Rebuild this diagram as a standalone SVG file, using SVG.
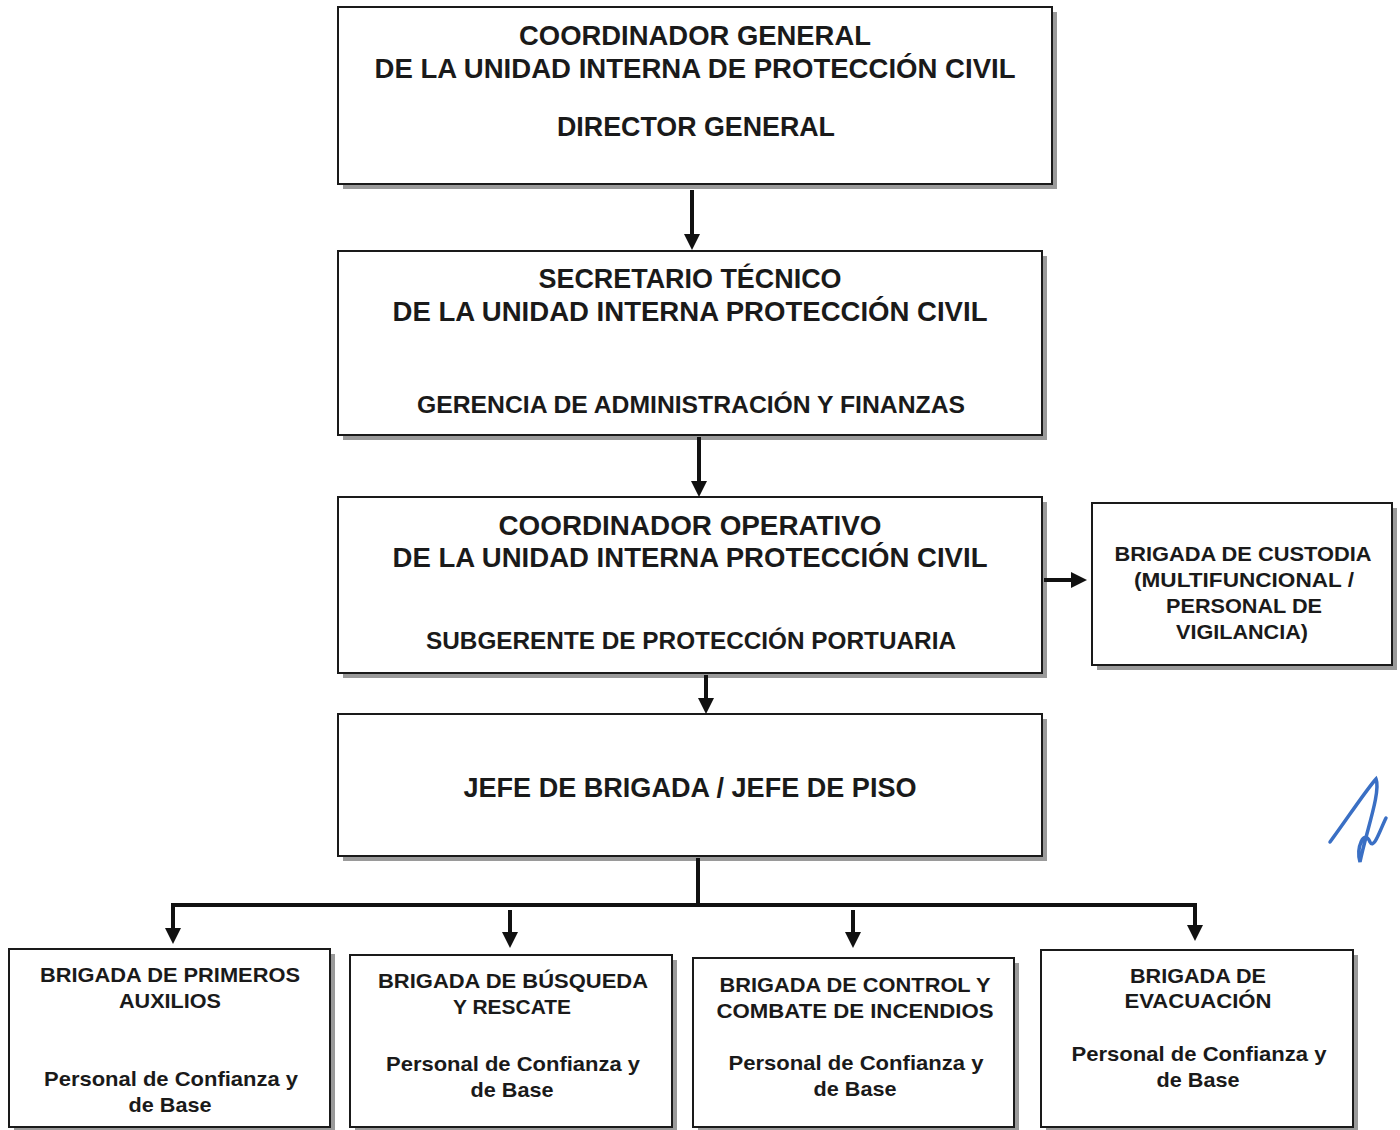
<svg xmlns="http://www.w3.org/2000/svg" width="1400" height="1130" viewBox="0 0 1400 1130">
<style>
.box{fill:#fff;stroke:#1a1a1a;stroke-width:2}
.sh{fill:#9a9a9a}
.t{font-family:"Liberation Sans",Arial,sans-serif;font-weight:700;fill:#1a1a1a;text-anchor:middle}
.big{font-size:27px}
.mid{font-size:23px}
.sm{font-size:21px}
.con{stroke:#111;stroke-width:4;fill:none}
</style>
<defs>
<marker id="ah" markerWidth="4" markerHeight="4" refX="2" refY="2" orient="auto" markerUnits="strokeWidth" viewBox="0 0 4 4">
<path d="M0,0 L4,2 L0,4 Z" fill="#111"/>
</marker>
</defs>
<rect width="1400" height="1130" fill="#fff"/>

<g id="n1">
<rect class="sh" x="343" y="12" width="714" height="177"/>
<rect class="box" x="338" y="7" width="714" height="177"/>
<text class="t big" x="695" y="45" textLength="352" lengthAdjust="spacingAndGlyphs">COORDINADOR GENERAL</text>
<text class="t big" x="695" y="78" textLength="641" lengthAdjust="spacingAndGlyphs">DE LA UNIDAD INTERNA DE PROTECCIÓN CIVIL</text>
<text class="t big" x="696" y="136" textLength="278" lengthAdjust="spacingAndGlyphs">DIRECTOR GENERAL</text>
</g>

<g id="n2">
<rect class="sh" x="343" y="256" width="704" height="184"/>
<rect class="box" x="338" y="251" width="704" height="184"/>
<text class="t big" x="690" y="288" textLength="303" lengthAdjust="spacingAndGlyphs">SECRETARIO TÉCNICO</text>
<text class="t big" x="690" y="321" textLength="595" lengthAdjust="spacingAndGlyphs">DE LA UNIDAD INTERNA PROTECCIÓN CIVIL</text>
<text class="t mid" x="691" y="413" textLength="548" lengthAdjust="spacingAndGlyphs">GERENCIA DE ADMINISTRACIÓN Y FINANZAS</text>
</g>

<g id="n3">
<rect class="sh" x="343" y="502" width="704" height="176"/>
<rect class="box" x="338" y="497" width="704" height="176"/>
<text class="t big" x="690" y="535" textLength="383" lengthAdjust="spacingAndGlyphs">COORDINADOR OPERATIVO</text>
<text class="t big" x="690" y="567" textLength="595" lengthAdjust="spacingAndGlyphs">DE LA UNIDAD INTERNA PROTECCIÓN CIVIL</text>
<text class="t mid" x="691" y="649" textLength="530" lengthAdjust="spacingAndGlyphs">SUBGERENTE DE PROTECCIÓN PORTUARIA</text>
</g>

<g id="n4">
<rect class="sh" x="1097" y="508" width="300" height="162"/>
<rect class="box" x="1092" y="503" width="300" height="162"/>
<text class="t sm" x="1243" y="561" textLength="257" lengthAdjust="spacingAndGlyphs">BRIGADA DE CUSTODIA</text>
<text class="t sm" x="1244" y="587" textLength="220" lengthAdjust="spacingAndGlyphs">(MULTIFUNCIONAL /</text>
<text class="t sm" x="1244" y="613" textLength="156" lengthAdjust="spacingAndGlyphs">PERSONAL DE</text>
<text class="t sm" x="1242" y="639" textLength="132" lengthAdjust="spacingAndGlyphs">VIGILANCIA)</text>
</g>

<g id="n5">
<rect class="sh" x="343" y="719" width="704" height="142"/>
<rect class="box" x="338" y="714" width="704" height="142"/>
<text class="t big" x="690" y="797" textLength="453" lengthAdjust="spacingAndGlyphs">JEFE DE BRIGADA / JEFE DE PISO</text>
</g>

<g id="n6">
<rect class="sh" x="14" y="954" width="321" height="178"/>
<rect class="box" x="9" y="949" width="321" height="178"/>
<text class="t sm" x="170" y="982" textLength="260" lengthAdjust="spacingAndGlyphs">BRIGADA DE PRIMEROS</text>
<text class="t sm" x="170" y="1008" textLength="102" lengthAdjust="spacingAndGlyphs">AUXILIOS</text>
<text class="t sm" x="171" y="1086" textLength="254" lengthAdjust="spacingAndGlyphs">Personal de Confianza y</text>
<text class="t sm" x="170" y="1112" textLength="83" lengthAdjust="spacingAndGlyphs">de Base</text>
</g>

<g id="n7">
<rect class="sh" x="355" y="960" width="322" height="172"/>
<rect class="box" x="350" y="955" width="322" height="172"/>
<text class="t sm" x="513" y="988" textLength="270" lengthAdjust="spacingAndGlyphs">BRIGADA DE BÚSQUEDA</text>
<text class="t sm" x="512" y="1014" textLength="118" lengthAdjust="spacingAndGlyphs">Y RESCATE</text>
<text class="t sm" x="513" y="1071" textLength="254" lengthAdjust="spacingAndGlyphs">Personal de Confianza y</text>
<text class="t sm" x="512" y="1097" textLength="83" lengthAdjust="spacingAndGlyphs">de Base</text>
</g>

<g id="n8">
<rect class="sh" x="698" y="963" width="321" height="169"/>
<rect class="box" x="693" y="958" width="321" height="169"/>
<text class="t sm" x="855" y="992" textLength="271" lengthAdjust="spacingAndGlyphs">BRIGADA DE CONTROL Y</text>
<text class="t sm" x="855" y="1018" textLength="277" lengthAdjust="spacingAndGlyphs">COMBATE DE INCENDIOS</text>
<text class="t sm" x="856" y="1070" textLength="255" lengthAdjust="spacingAndGlyphs">Personal de Confianza y</text>
<text class="t sm" x="855" y="1096" textLength="83" lengthAdjust="spacingAndGlyphs">de Base</text>
</g>

<g id="n9">
<rect class="sh" x="1046" y="955" width="312" height="177"/>
<rect class="box" x="1041" y="950" width="312" height="177"/>
<text class="t sm" x="1198" y="983" textLength="136" lengthAdjust="spacingAndGlyphs">BRIGADA DE</text>
<text class="t sm" x="1198" y="1008" textLength="147" lengthAdjust="spacingAndGlyphs">EVACUACIÓN</text>
<text class="t sm" x="1199" y="1061" textLength="255" lengthAdjust="spacingAndGlyphs">Personal de Confianza y</text>
<text class="t sm" x="1198" y="1087" textLength="83" lengthAdjust="spacingAndGlyphs">de Base</text>
</g>

<g id="connectors">
<line class="con" x1="692" y1="190" x2="692" y2="242" marker-end="url(#ah)"/>
<line class="con" x1="699" y1="437" x2="699" y2="489" marker-end="url(#ah)"/>
<line class="con" x1="1044" y1="580" x2="1079" y2="580" marker-end="url(#ah)"/>
<line class="con" x1="706" y1="675" x2="706" y2="706" stroke-width="3.5" marker-end="url(#ah)"/>
<line class="con" x1="698" y1="858" x2="698" y2="905"/>
<polyline class="con" points="173,920 173,905 1195,905 1195,920" stroke-width="5"/>
<line class="con" x1="173" y1="905" x2="173" y2="936" marker-end="url(#ah)"/>
<line class="con" x1="1195" y1="905" x2="1195" y2="933" marker-end="url(#ah)"/>
<line class="con" x1="510" y1="910" x2="510" y2="940" marker-end="url(#ah)"/>
<line class="con" x1="853" y1="910" x2="853" y2="940" marker-end="url(#ah)"/>
</g>

<path d="M1330,842 C1345,822 1366,790 1376,779 C1381,792 1366,832 1360,862 C1356,848 1364,828 1370,842 C1374,850 1380,830 1386,818" fill="none" stroke="#3a6fc4" stroke-width="3.5" stroke-linecap="round"/>
</svg>
